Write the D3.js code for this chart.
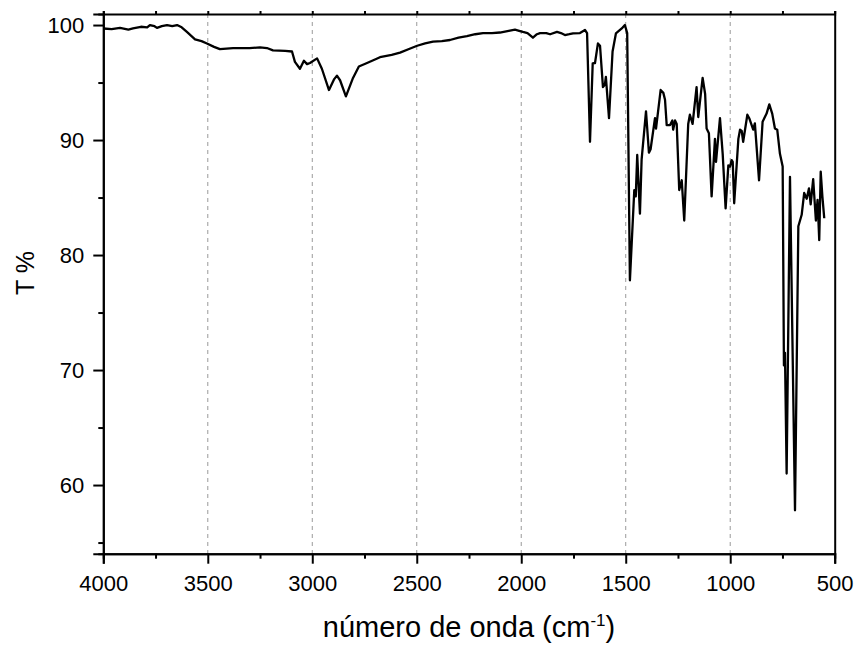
<!DOCTYPE html>
<html>
<head>
<meta charset="utf-8">
<script src="https://cdn.jsdelivr.net/npm/d3@7"></script>
<style>
  body { margin: 0; background: #fff; }
  svg { display: block; font-family: "Liberation Sans", Arial, sans-serif; }
</style>
</head>
<body>
<svg id="chart"></svg>
<script>
// spectrum (wavenumber in cm-1, transmittance in %)
const wavenumber = [
  4000, 3960, 3920, 3880, 3858, 3820, 3790, 3777, 3755, 3743, 3720, 3695, 3670, 3647, 3625,
  3600, 3561, 3530, 3504, 3470, 3442, 3379, 3300, 3250, 3217, 3188, 3130, 3097, 3083, 3059,
  3040, 3025, 3011, 2977, 2954, 2920, 2895, 2882, 2867, 2839, 2805, 2777, 2738, 2700, 2676,
  2620, 2580, 2540, 2498, 2460, 2422, 2380, 2341, 2300, 2260, 2220, 2183, 2140, 2102, 2060,
  2030, 2010, 1992, 1970, 1944, 1925, 1910, 1880, 1862, 1829, 1810, 1791, 1770, 1752, 1719,
  1695, 1685, 1671, 1658, 1647, 1633, 1623, 1609, 1600, 1595, 1580, 1563, 1547, 1519, 1504,
  1493, 1480, 1459, 1452, 1445, 1432, 1424, 1403, 1389, 1381, 1360, 1355, 1333, 1320, 1312,
  1304, 1288, 1277, 1273, 1264, 1256, 1244, 1232, 1220, 1201, 1193, 1180, 1161, 1153, 1132,
  1120, 1113, 1102, 1089, 1073, 1068, 1049, 1036, 1022, 1009, 1001, 993, 988, 981, 961,
  953, 945, 938, 918, 909, 890, 882, 862, 845, 826, 813, 799, 786, 775, 762,
  749, 743, 738, 730, 714, 690, 674, 658, 646, 634, 623, 615, 603, 590, 582,
  574, 567, 559, 550
];
const transmittance = [
  99.7, 99.65, 99.75, 99.6, 99.7, 99.85, 99.8, 100.0, 99.9, 99.75, 99.9, 100.0, 99.9, 100.0, 99.8,
  99.4, 98.75, 98.6, 98.4, 98.1, 97.9, 98.0, 98.0, 98.05, 98.0, 97.8, 97.75, 97.7, 96.8, 96.2,
  96.9, 96.6, 96.7, 97.1, 96.2, 94.35, 95.3, 95.6, 95.2, 93.8, 95.4, 96.4, 96.7, 97.0, 97.2,
  97.4, 97.6, 97.9, 98.2, 98.4, 98.55, 98.6, 98.7, 98.9, 99.04, 99.2, 99.3, 99.3, 99.35, 99.5,
  99.6, 99.5, 99.4, 99.3, 98.9, 99.2, 99.3, 99.3, 99.2, 99.4, 99.3, 99.13, 99.2, 99.27, 99.3,
  99.57, 99.3, 89.85, 96.67, 96.7, 98.4, 98.2, 94.6, 94.8, 95.5, 91.9, 97.7, 99.27, 99.7, 100.0,
  99.3, 77.8, 85.65, 85.1, 88.7, 83.6, 88.3, 92.5, 88.9, 89.2, 91.9, 91.0, 94.35, 94.1, 93.5,
  91.3, 91.3, 91.7, 90.9, 91.7, 91.4, 85.65, 86.5, 83.0, 91.4, 92.2, 91.4, 94.6, 92.0, 95.4,
  94.0, 91.0, 90.6, 85.1, 90.1, 88.1, 91.9, 88.8, 84.06, 87.8, 87.7, 88.26, 88.1, 84.5, 90.1,
  90.9, 90.8, 89.85, 92.2, 91.9, 90.9, 91.45, 86.5, 91.6, 92.3, 93.1, 92.3, 91.0, 90.9, 88.8,
  87.7, 70.4, 71.5, 61.0, 86.8, 57.8, 82.5, 83.5, 85.4, 84.9, 85.8, 84.4, 86.6, 83.0, 84.8,
  81.3, 87.25, 85.1, 83.2
];

const xMajor = [4000, 3500, 3000, 2500, 2000, 1500, 1000, 500];
const xMinor = [3750, 3250, 2750, 2250, 1750, 1250, 750];
const xGrid = [3500, 3000, 2500, 2000, 1500, 1000];
const yMajor = [60, 70, 80, 90, 100];
const yMinor = [55, 65, 75, 85, 95];

const xTitle = "número de onda (cm";
const yTitle = "T %";

const W = 856, H = 645;
const plot = {l: 103.3, r: 834.7, t: 14, b: 553.7};

const svg = d3.select('#chart')
    .attr('width', W)
    .attr('height', H);

const x = d3.scaleLinear()
    .domain([4000, 500])
    .range([plot.l, plot.r]);

const y = d3.scaleLinear()
    .domain([54.03, 100.96])
    .range([plot.b, plot.t]);

// dashed vertical grid
svg.append('g')
    .selectAll('line')
    .data(xGrid)
    .join('line')
        .attr('x1', d => x(d)).attr('x2', d => x(d))
        .attr('y1', plot.t).attr('y2', plot.b)
        .attr('stroke', '#9a9a9a')
        .attr('stroke-width', 1)
        .attr('stroke-dasharray', '4,4');

// spectrum
const pts = wavenumber.map((w, i) => [w, transmittance[i]]);
const line = d3.line()
    .x(d => x(d[0]))
    .y(d => y(d[1]))
    .curve(d3.curveLinear);

svg.append('path')
    .datum(pts)
    .attr('d', line)
    .attr('fill', 'none')
    .attr('stroke', '#000')
    .attr('stroke-width', 2.3)
    .attr('stroke-linejoin', 'round');

function styleAxis(g) {
    g.selectAll('.domain').attr('stroke', '#000').attr('stroke-width', 2);
    g.selectAll('.tick line').attr('stroke', '#000').attr('stroke-width', 2);
    g.selectAll('.tick text')
        .attr('fill', '#000')
        .style('font-size', '22px')
        .style('font-family', '"Liberation Sans", Arial, sans-serif');
}

// bottom axis
const xAxisG = svg.append('g')
    .attr('transform', `translate(0,${plot.b})`)
    .call(d3.axisBottom(x).tickValues(xMajor).tickSize(10).tickPadding(6).tickFormat(d3.format('d')));
styleAxis(xAxisG);
xAxisG.selectAll('.tick text').attr('dy', '0.95em');

svg.append('g')
    .attr('transform', `translate(0,${plot.b})`)
    .call(d3.axisBottom(x).tickValues(xMinor).tickSize(5).tickFormat(''))
    .call(styleAxis);

// top axis
svg.append('g')
    .attr('transform', `translate(0,${plot.t})`)
    .call(d3.axisTop(x).tickValues(xMajor.concat(xMinor)).tickSize(3).tickFormat(''))
    .call(styleAxis);

// left axis
const yAxisG = svg.append('g')
    .attr('transform', `translate(${plot.l},0)`)
    .call(d3.axisLeft(y).tickValues(yMajor).tickSize(10).tickPadding(9));
styleAxis(yAxisG);

svg.append('g')
    .attr('transform', `translate(${plot.l},0)`)
    .call(d3.axisLeft(y).tickValues(yMinor).tickSize(5).tickFormat(''))
    .call(styleAxis);

// right border
svg.append('g')
    .attr('transform', `translate(${plot.r},0)`)
    .call(d3.axisRight(y).tickValues([]).tickSize(0))
    .call(styleAxis);

// axis titles
const xt = svg.append('text')
    .attr('x', (plot.l + plot.r) / 2)
    .attr('y', 637)
    .attr('text-anchor', 'middle')
    .style('font-size', '29px')
    .text(xTitle);
xt.append('tspan')
    .attr('dy', -11)
    .style('font-size', '17px')
    .text('-1');
xt.append('tspan')
    .attr('dy', 11)
    .text(')');

svg.append('text')
    .attr('transform', 'translate(34,273) rotate(-90)')
    .attr('text-anchor', 'middle')
    .style('font-size', '25px')
    .text(yTitle);
</script>
</body>
</html>
